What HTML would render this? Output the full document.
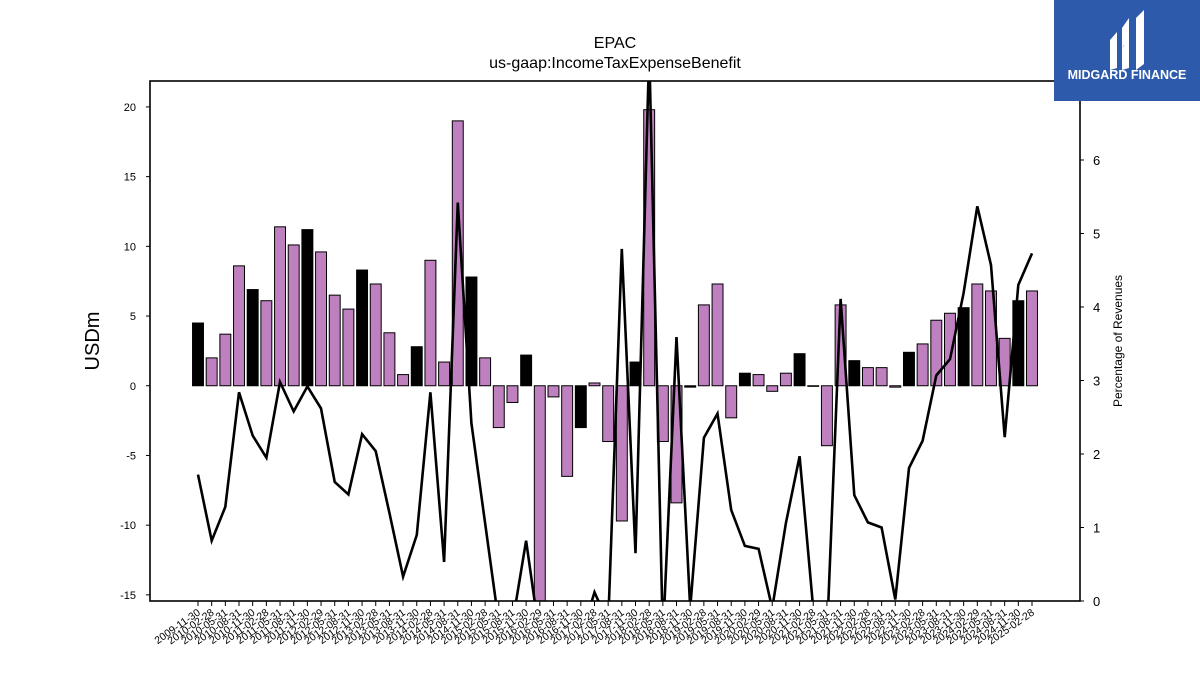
<!DOCTYPE html>
<html><head><meta charset="utf-8"><style>
body{margin:0;background:#fff;font-family:"Liberation Sans","DejaVu Sans",sans-serif;}
#wrap{position:relative;width:1200px;height:675px;overflow:hidden;}
</style></head><body>
<div id="wrap">
<svg id="chart" width="1200" height="675" style="position:absolute;left:0;top:0">
<text x="615" y="48" text-anchor="middle" font-size="16">EPAC</text>
<text x="615" y="68" text-anchor="middle" font-size="16">us-gaap:IncomeTaxExpenseBenefit</text>
<text x="0" y="0" transform="translate(99,341) rotate(-90)" text-anchor="middle" font-size="20">USDm</text>
<text x="0" y="0" transform="translate(1122,341) rotate(-90)" text-anchor="middle" font-size="12">Percentage of Revenues</text>
<g id="bars"></g>
<g id="line"></g>
<g id="axes"></g>
</svg>
<div style="position:absolute;left:1054px;top:0;width:146px;height:101px;background:#2d5aab;">
<svg width="146" height="70" style="position:absolute;left:0;top:0">
<path d="M56 40 L63 32 L63 68 L56 70 Z M68 28 L75 18 L75 55 L70 45 L68 48 Z M82 18 L90 10 L90 64 L82 70 Z M68 48 L75 40 L75 68 L68 70Z" fill="#fff"/>
</svg>
<div style="position:absolute;left:0;top:68px;width:146px;text-align:center;color:#fff;font-weight:bold;font-size:12.5px;">MIDGARD FINANCE</div>
</div>
</div>
<script>
const categories=["2009-11-30","2010-02-28","2010-05-31","2010-08-31","2010-11-30","2011-02-28","2011-05-31","2011-08-31","2011-11-30","2012-02-29","2012-05-31","2012-08-31","2012-11-30","2013-02-28","2013-05-31","2013-08-31","2013-11-30","2014-02-28","2014-05-31","2014-08-31","2014-11-30","2015-02-28","2015-05-31","2015-08-31","2015-11-30","2016-02-29","2016-05-31","2016-08-31","2016-11-30","2017-02-28","2017-05-31","2017-08-31","2017-11-30","2018-02-28","2018-05-31","2018-08-31","2018-11-30","2019-02-28","2019-05-31","2019-08-31","2019-11-30","2020-02-29","2020-05-31","2020-08-31","2020-11-30","2021-02-28","2021-05-31","2021-08-31","2021-11-30","2022-02-28","2022-05-31","2022-08-31","2022-11-30","2023-02-28","2023-05-31","2023-08-31","2023-11-30","2024-02-29","2024-05-31","2024-08-31","2024-11-30","2025-02-28"];
const taxValues=[4.5,2.0,3.7,8.6,6.9,6.1,11.4,10.1,11.2,9.6,6.5,5.5,8.3,7.3,3.8,0.8,2.8,9.0,1.7,19.0,7.8,2.0,-3.0,-1.2,2.2,-15.6,-0.8,-6.5,-3.0,0.2,-4.0,-9.7,1.7,19.8,-4.0,-8.4,-0.1,5.8,7.3,-2.3,0.9,0.8,-0.4,0.9,2.3,0.0,-4.3,5.8,1.8,1.3,1.3,-0.1,2.4,3.0,4.7,5.2,5.6,7.3,6.8,3.4,6.1,6.8];
const pctValues=[1.72,0.82,1.28,2.84,2.25,1.95,2.98,2.58,2.92,2.62,1.62,1.45,2.27,2.04,1.2,0.33,0.9,2.84,0.53,5.42,2.42,1.06,-0.3,-0.3,0.82,-0.5,-0.5,-0.5,-0.5,0.12,-0.3,4.79,0.65,7.5,-0.5,3.59,-0.1,2.22,2.55,1.24,0.75,0.71,-0.1,1.06,1.97,-0.1,-0.5,4.11,1.44,1.07,1.0,0.02,1.81,2.18,3.07,3.29,4.19,5.37,4.57,2.23,4.3,4.73];
const leftTicks=[-15,-10,-5,0,5,10,15,20];
const rightTicks=[0,1,2,3,4,5,6];
const NS="http://www.w3.org/2000/svg";
const L=150,R=1080,T=81,B=601;
const yMin=-15.44,yMax=21.86,y2Min=0,y2Max=7.075;
function yS(v){return B-(v-yMin)/(yMax-yMin)*(B-T);}
function y2S(v){return B-(v-y2Min)/(y2Max-y2Min)*(B-T);}
const step=(1032-198)/(categories.length-1);
function xS(i){return 198+i*step;}
function mk(tag,attrs,parent){const e=document.createElementNS(NS,tag);for(const k in attrs)e.setAttribute(k,attrs[k]);parent.appendChild(e);return e;}
const svg=document.getElementById('chart');
const clip=mk('clipPath',{id:'plotclip'},svg);
mk('rect',{x:L,y:T,width:R-L,height:B-T},clip);
const gb=document.getElementById('bars');gb.setAttribute('clip-path','url(#plotclip)');
const bw=step*0.8;
taxValues.forEach((v,i)=>{
  const y0=yS(0),y1=yS(v);
  const r=mk('rect',{x:xS(i)-bw/2,y:Math.min(y0,y1),width:bw,height:Math.max(Math.abs(y1-y0),0.6),fill:(i%4===0)?'#000':'#bf80bf',stroke:'#000','stroke-width':1},gb);
  
  
});
const gl=document.getElementById('line');gl.setAttribute('clip-path','url(#plotclip)');
const pts=pctValues.map((v,i)=>xS(i).toFixed(1)+','+y2S(v).toFixed(1)).join(' ');
const pl=mk('polyline',{points:pts,fill:'none',stroke:'#000','stroke-width':2.6,'stroke-linejoin':'miter'},gl);


const ga=document.getElementById('axes');
const fr=mk('rect',{x:L,y:T,width:R-L,height:B-T,fill:'none',stroke:'#000','stroke-width':1.6},ga);


leftTicks.forEach(t=>{
  const y=yS(t);
  mk('line',{x1:L-4,x2:L,y1:y,y2:y,stroke:'#000','stroke-width':1},ga);
  const tx=mk('text',{x:L-14,y:y+4,'text-anchor':'end','font-size':11},ga);
  tx.textContent=t;
  
  
});
rightTicks.forEach(t=>{
  const y=y2S(t);
  mk('line',{x1:R,x2:R+4,y1:y,y2:y,stroke:'#000','stroke-width':1},ga);
  const tx=mk('text',{x:R+13,y:y+5,'text-anchor':'start','font-size':13},ga);
  tx.textContent=t;
  
  
});
categories.forEach((c,i)=>{
  const x=xS(i);
  mk('line',{x1:x,x2:x,y1:B,y2:B+5,stroke:'#000','stroke-width':1},ga);
  const tx=mk('text',{x:0,y:0,'text-anchor':'end','font-size':10.5,transform:`translate(${x+3},${B+13}) rotate(-35)`},ga);
  tx.textContent=c;
  
  
});
</script>
</body></html>
